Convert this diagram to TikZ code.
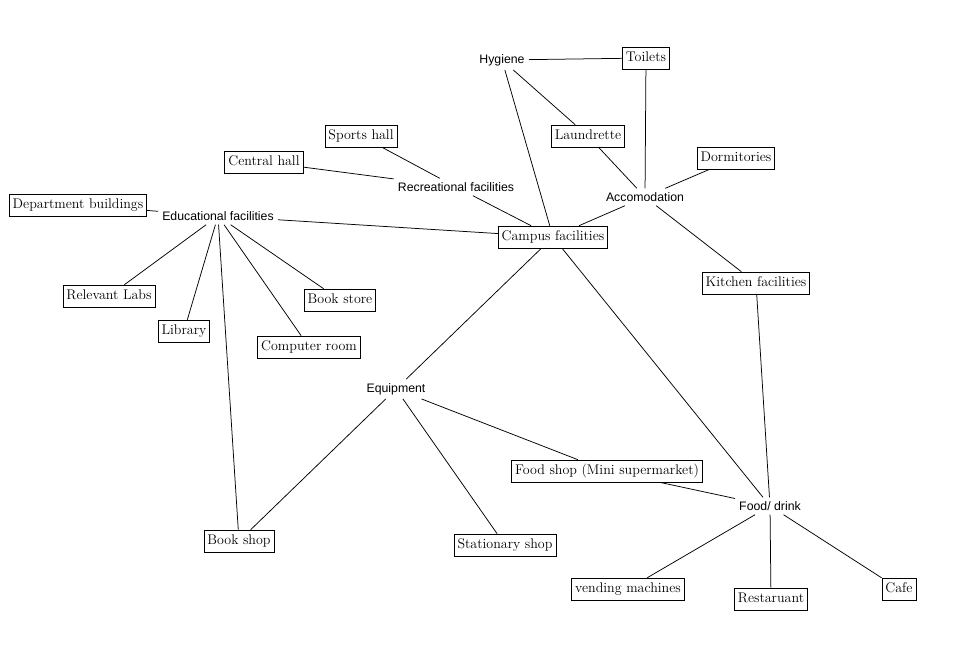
\documentclass[tikz,border=0pt]{standalone}
\usepackage{fontspec}
\newfontfamily\labfont{Liberation Sans}
\begin{document}
\begin{tikzpicture}[x=1pt,y=-1pt,
  boxnode/.style={draw,line width=0.8pt,font=\fontsize{14}{16}\selectfont,inner xsep=3.5pt,inner ysep=4.3pt,text height=10pt,text depth=3.2pt},
  lab/.style={font=\labfont\fontsize{12.3}{14}\selectfont,inner sep=4pt},
  conn/.style={line width=0.75pt}]
\useasboundingbox (0,0) rectangle (959,649);
\node[boxnode] (toilets) at (646,58) {Toilets};
\node[lab] (hyg) at (502,60) {Hygiene};
\node[boxnode] (laund) at (588,136) {Laundrette};
\node[boxnode] (sports) at (361,136) {Sports hall};
\node[boxnode] (central) at (264,162) {Central hall};
\node[boxnode] (dorm) at (736,158) {Dormitories};
\node[lab] (rec) at (456,187) {Recreational facilities};
\node[lab] (acc) at (645,197) {Accomodation};
\node[boxnode] (dept) at (78,205) {Department buildings};
\node[lab] (edu) at (218,216) {Educational facilities};
\node[boxnode] (campus) at (553,237) {Campus facilities};
\node[boxnode] (kitchen) at (756,283) {Kitchen facilities};
\node[boxnode] (labs) at (109,296) {Relevant Labs};
\node[boxnode] (bstore) at (340,300) {Book store};
\node[boxnode] (lib) at (184,331) {Library};
\node[boxnode] (comp) at (309,347) {Computer room};
\node[lab] (equip) at (396,389) {Equipment};
\node[boxnode] (food) at (607,471) {Food shop (Mini supermarket)};
\node[lab] (fd) at (770,506) {Food/ drink};
\node[boxnode] (bshop) at (239,541) {Book shop};
\node[boxnode] (stat) at (505,545) {Stationary shop};
\node[boxnode] (vend) at (628,589) {vending machines};
\node[boxnode] (rest) at (771,599) {Restaruant};
\node[boxnode] (cafe) at (899,589) {Cafe};
\draw[conn] (hyg) -- (toilets);
\draw[conn] (hyg) -- (laund);
\draw[conn] (hyg) -- (campus);
\draw[conn] (toilets) -- (acc);
\draw[conn] (laund) -- (acc);
\draw[conn] (dorm) -- (acc);
\draw[conn] (acc) -- (campus);
\draw[conn] (acc) -- (kitchen);
\draw[conn] (kitchen) -- (fd);
\draw[conn] (sports) -- (rec);
\draw[conn] (central) -- (rec);
\draw[conn] (rec) -- (campus);
\draw[conn] (dept) -- (edu);
\draw[conn] (edu) -- (campus);
\draw[conn] (edu) -- (labs);
\draw[conn] (edu) -- (lib);
\draw[conn] (edu) -- (bshop);
\draw[conn] (edu) -- (comp);
\draw[conn] (edu) -- (bstore);
\draw[conn] (campus) -- (equip);
\draw[conn] (campus) -- (fd);
\draw[conn] (equip) -- (bshop);
\draw[conn] (equip) -- (stat);
\draw[conn] (equip) -- (food);
\draw[conn] (food) -- (fd);
\draw[conn] (fd) -- (vend);
\draw[conn] (fd) -- (rest);
\draw[conn] (fd) -- (cafe);
\end{tikzpicture}
\end{document}
